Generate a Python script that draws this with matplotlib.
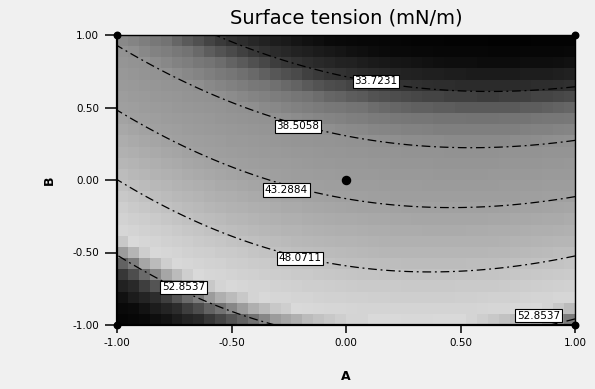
import numpy as np
import matplotlib.pyplot as plt
from matplotlib.colors import LinearSegmentedColormap

plt.rcParams['font.family'] = ['DejaVu Sans']
plt.rcParams['lines.dashdot_pattern'] = [7, 3, 1.5, 3]

# coded factor ticks
a_ticks = [-1.0, -0.5, 0.0, 0.5, 1.0]
b_ticks = [-1.0, -0.5, 0.0, 0.5, 1.0]

# quadratic model (coded): b0, A, B, AB, A^2, B^2
coef = [41.9, -3.1, -10.9, -1.3, 3.1, -0.8]

# contour levels shown on the plot
levels = [33.7231, 38.5058, 43.2884, 48.0711, 52.8537]

# where the level labels sit (A, B) and which level each one names
label_a = [0.13, -0.21, -0.26, -0.20, -0.71, 0.84]
label_b = [0.68, 0.37, -0.07, -0.54, -0.74, -0.935]
label_lev = [0, 1, 2, 3, 4, 4]

# design points
pts_a = [-1, 1, -1, 1]
pts_b = [1, 1, -1, -1]
center_a = [0]
center_b = [0]

# grey shade of the printed surface vs response value
shade_v = [28.5, 31, 33.7, 36, 38.5, 43.3, 47, 49.5, 51.5, 52.3, 53.0, 54.0, 55.5, 57.5]
shade_g = [0.0, 0.04, 0.2, 0.45, 0.57, 0.63, 0.72, 0.8, 0.85, 0.68, 0.43, 0.18, 0.04, 0.0]


def model(a, b):
    c = coef
    return c[0] + c[1]*a + c[2]*b + c[3]*a*b + c[4]*a**2 + c[5]*b**2


vmin, vmax = shade_v[0], shade_v[-1]
pos = [(v - vmin) / (vmax - vmin) for v in shade_v]
cmap = LinearSegmentedColormap.from_list('greys_print', list(zip(pos, [(g, g, g) for g in shade_g])))

fig = plt.figure(figsize=(5.95, 3.89), dpi=100)
fig.patch.set_facecolor('#f0f0f0')
ax = fig.add_axes([117/595, 1 - 325/389, 458/595, 290/389])

# coarse cells like the original rendering
nx, ny = 42, 26
ae = np.linspace(-1, 1, nx + 1)
be = np.linspace(-1, 1, ny + 1)
ac = (ae[:-1] + ae[1:]) / 2
bc = (be[:-1] + be[1:]) / 2
AC, BC = np.meshgrid(ac, bc)
ax.pcolormesh(ae, be, model(AC, BC), cmap=cmap, vmin=vmin, vmax=vmax, shading='flat')

af = np.linspace(-1, 1, 300)
AF, BF = np.meshgrid(af, af)
ax.contour(AF, BF, model(AF, BF), levels=levels, colors='k', linewidths=0.9, linestyles='dashdot')

for a, b, k in zip(label_a, label_b, label_lev):
    ax.text(a, b, '%.4f' % levels[k], fontsize=7.5, ha='center', va='center', zorder=5,
            bbox=dict(facecolor='white', edgecolor='black', linewidth=0.8, pad=1.2))

ax.scatter(pts_a, pts_b, s=22, color='black', zorder=6, clip_on=False)
ax.scatter(center_a, center_b, s=34, color='black', zorder=6, clip_on=False)

ax.set_xlim(-1, 1)
ax.set_ylim(-1, 1)
ax.set_xticks(a_ticks)
ax.set_yticks(b_ticks)
ax.set_xticklabels(['%.2f' % t for t in a_ticks], fontsize=7.5)
ax.set_yticklabels(['%.2f' % t for t in b_ticks], fontsize=7.5)
ax.tick_params(axis='x', direction='out', length=6, width=1.1, pad=3)
ax.tick_params(axis='y', direction='out', length=9, width=1.1, pad=4)
for side in ['left', 'bottom']:
    ax.spines[side].set_linewidth(1.6)
for side in ['top', 'right']:
    ax.spines[side].set_linewidth(1.0)

ax.set_xlabel('A', fontsize=9, fontweight='bold', labelpad=16)
ax.set_ylabel('B', fontsize=9, fontweight='bold', labelpad=12)
ax.set_title('Surface tension (mN/m)', fontsize=14, pad=8)

fig.savefig('out.png', dpi=100, facecolor=fig.get_facecolor())
